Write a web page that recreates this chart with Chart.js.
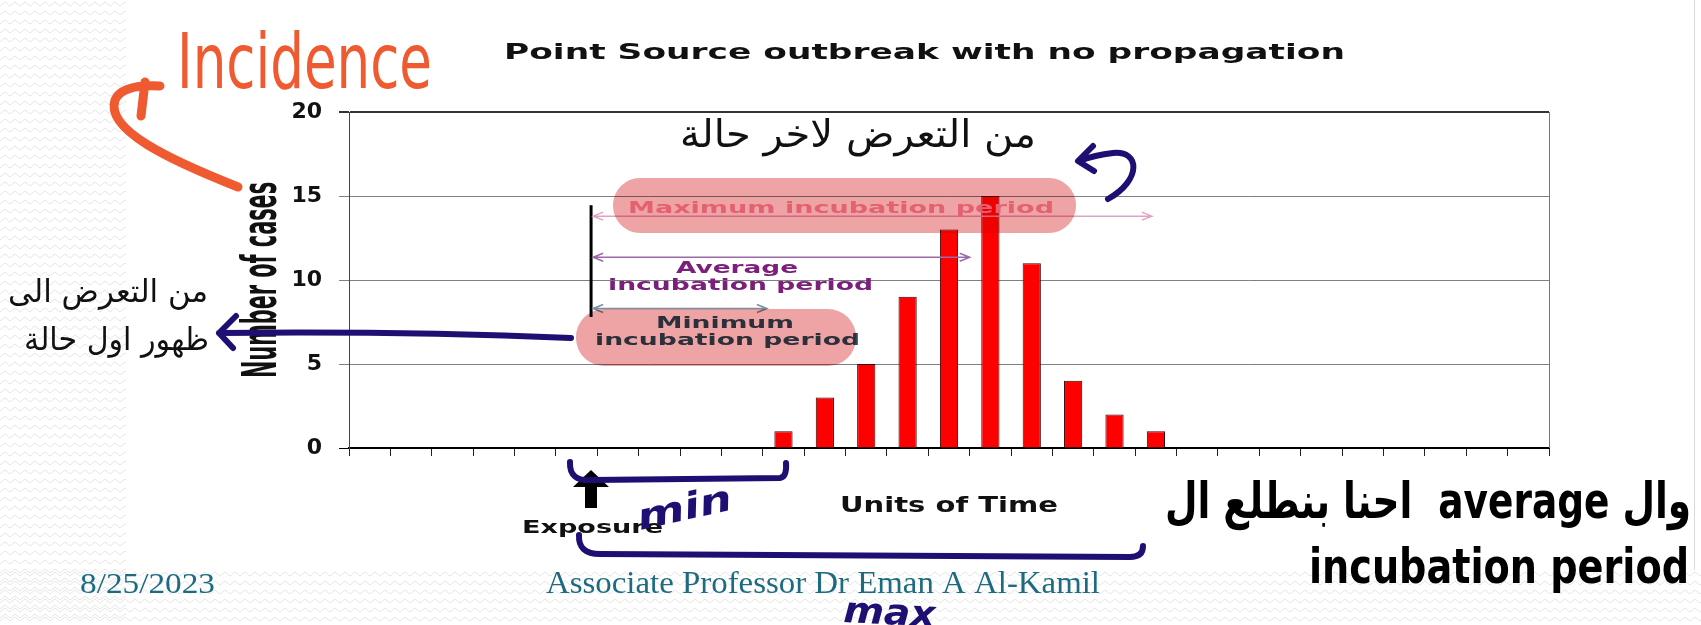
<!DOCTYPE html>
<html>
<head>
<meta charset="utf-8">
<script src="https://cdn.jsdelivr.net/npm/chart.js@4.4.1/dist/chart.umd.min.js"></script>
<style>
  html, body { margin: 0; padding: 0; background: #fff; }
  #wrap { width: 1701px; height: 625px; }
</style>
</head>
<body>
<div id="wrap"><canvas id="chart" width="1701" height="625"></canvas></div>
<script>
// chart data
const timeUnits = ['1', '2', '3', '4', '5', '6', '7', '8', '9', '10',
                   '11', '12', '13', '14', '15', '16', '17', '18', '19', '20',
                   '21', '22', '23', '24', '25', '26', '27', '28', '29'];
const cases     = [0, 0, 0, 0, 0, 0, 0, 0, 0, 0,
                   1, 3, 5, 9, 13, 15, 11, 4, 2, 1,
                   0, 0, 0, 0, 0, 0, 0, 0, 0];
const yTicks    = [0, 5, 10, 15, 20];

const chartTitle = 'Point Source outbreak with no propagation';
const xTitle     = 'Units of Time';
const yTitle     = 'Number of cases';

const NAVY = '#1e0f73';
const TEAL = '#1d6b80';
const SANS = '"DejaVu Sans", "Noto Sans", sans-serif';

// draw text stretched to a given width (the slide image is stretched)
function fitText(ctx, text, left, baseline, width, font, color, opts = {}) {
  ctx.save();
  ctx.font = font;
  ctx.fillStyle = color;
  ctx.textAlign = 'left';
  ctx.textBaseline = 'alphabetic';
  if (opts.rtl) ctx.direction = 'rtl';
  const w = ctx.measureText(text).width;
  ctx.translate(left, baseline);
  if (opts.rotate) ctx.rotate(opts.rotate);
  ctx.scale(width / w, opts.sy || 1);
  ctx.fillText(text, 0, 0);
  ctx.restore();
}

function zigzag(ctx, x0, y0, x1, y1) {
  ctx.save();
  ctx.beginPath();
  ctx.rect(x0, y0, x1 - x0, y1 - y0);
  ctx.clip();
  ctx.strokeStyle = '#e6e6e6';
  ctx.lineWidth = 1;
  for (let y = y0 + 4; y < y1; y += 9) {
    ctx.beginPath();
    let up = false;
    for (let x = x0; x <= x1 + 6; x += 5) {
      ctx.lineTo(x, y + (up ? -2 : 2));
      up = !up;
    }
    ctx.stroke();
  }
  ctx.restore();
}

function dblArrow(ctx, x0, x1, y, color) {
  ctx.save();
  ctx.strokeStyle = color;
  ctx.lineWidth = 1.5;
  ctx.beginPath();
  ctx.moveTo(x0, y); ctx.lineTo(x1, y);
  ctx.moveTo(x0 + 10, y - 4); ctx.lineTo(x0, y); ctx.lineTo(x0 + 10, y + 4);
  ctx.moveTo(x1 - 10, y - 4); ctx.lineTo(x1, y); ctx.lineTo(x1 - 10, y + 4);
  ctx.stroke();
  ctx.restore();
}

function pen(ctx, color, width, draw) {
  ctx.save();
  ctx.strokeStyle = color;
  ctx.lineWidth = width;
  ctx.lineCap = 'round';
  ctx.lineJoin = 'round';
  ctx.beginPath();
  draw(ctx);
  ctx.stroke();
  ctx.restore();
}

const slide = {
  id: 'slide',
  beforeDraw(chart) {
    const ctx = chart.ctx;
    ctx.save();
    ctx.fillStyle = '#fff';
    ctx.fillRect(0, 0, chart.width, chart.height);
    zigzag(ctx, 0, 0, 126, 625);
    zigzag(ctx, 0, 570, 1701, 625);
    ctx.strokeStyle = '#dadada';
    ctx.beginPath(); ctx.moveTo(1694.5, 0); ctx.lineTo(1694.5, 570); ctx.stroke();
    ctx.restore();
  },
  afterDraw(chart) {
    const ctx = chart.ctx;
    const a = chart.chartArea;
    const X = c => chart.scales.x.getPixelForValue(c);
    const Y = v => chart.scales.y.getPixelForValue(v);

    // right frame of the plot
    ctx.save();
    ctx.strokeStyle = '#777';
    ctx.lineWidth = 1;
    ctx.beginPath(); ctx.moveTo(a.right + 0.5, a.top); ctx.lineTo(a.right + 0.5, a.bottom); ctx.stroke();
    ctx.restore();

    // titles
    fitText(ctx, chartTitle, 504, 59, 841, 'bold 22px ' + SANS, '#111');
    fitText(ctx, xTitle, 840, 512, 218, 'bold 22px ' + SANS, '#111');
    fitText(ctx, yTitle, 276, 378, 196, 'bold 48px ' + SANS, '#111', { rotate: -Math.PI / 2 });

    // incubation period markers
    ctx.save();
    ctx.strokeStyle = '#000';
    ctx.lineWidth = 3;
    ctx.beginPath(); ctx.moveTo(X(5.35), Y(14.45)); ctx.lineTo(X(5.35), Y(7.8)); ctx.stroke();
    ctx.restore();
    dblArrow(ctx, X(5.4), X(18.9), Y(13.8), '#e2a2c4');
    dblArrow(ctx, X(5.4), X(14.5), Y(11.35), '#9a6aa8');
    dblArrow(ctx, X(5.4), X(9.6), Y(8.3), '#7890a0');

    fitText(ctx, 'Maximum incubation period', 628, 213, 426, 'bold 16px ' + SANS, '#f596b0');
    fitText(ctx, 'Average', 676, 273, 122, 'bold 15px ' + SANS, '#7b1f7b');
    fitText(ctx, 'incubation period', 608, 290, 265, 'bold 16px ' + SANS, '#7b1f7b');
    fitText(ctx, 'Minimum', 656, 328, 138, 'bold 16px ' + SANS, '#2e4a5c');
    fitText(ctx, 'incubation period', 595, 345, 265, 'bold 16px ' + SANS, '#2e4a5c');

    // exposure arrow
    ctx.save();
    ctx.fillStyle = '#000';
    ctx.beginPath();
    ctx.moveTo(591, 470); ctx.lineTo(609, 487); ctx.lineTo(573, 487); ctx.closePath();
    ctx.fill();
    ctx.fillRect(585, 486, 12, 22);
    ctx.restore();
    fitText(ctx, 'Exposure', 522, 533, 141, 'bold 18px ' + SANS, '#111');

    // pink highlighter
    ctx.save();
    ctx.globalCompositeOperation = 'multiply';
    ctx.fillStyle = 'rgb(238,164,164)';
    ctx.beginPath(); ctx.roundRect(613, 178, 463, 55, 27); ctx.fill();
    ctx.beginPath(); ctx.roundRect(576, 309, 280, 57, 28); ctx.fill();
    ctx.restore();

    // handwritten notes
    fitText(ctx, 'Incidence', 177, 88, 255, '76px "DejaVu Sans Condensed", ' + SANS, '#ef5a30');
    pen(ctx, '#ef5a30', 9, c => {
      c.moveTo(238, 187);
      c.bezierCurveTo(170, 160, 105, 130, 115, 100);
      c.quadraticCurveTo(122, 84, 160, 86);
      c.moveTo(145, 82); c.lineTo(141, 116);
    });

    fitText(ctx, 'من التعرض لاخر حالة', 680, 147, 356, '38px ' + SANS, '#111', { rtl: true });
    pen(ctx, NAVY, 6, c => {
      c.moveTo(1108, 199);
      c.bezierCurveTo(1142, 180, 1140, 150, 1113, 153);
      c.quadraticCurveTo(1095, 155, 1079, 161);
      c.moveTo(1093, 146); c.lineTo(1078, 161); c.lineTo(1094, 171);
    });

    fitText(ctx, 'من التعرض الى', 8, 302, 200, '32px ' + SANS, '#111', { rtl: true });
    fitText(ctx, 'ظهور اول حالة', 24, 350, 185, '32px ' + SANS, '#111', { rtl: true });
    pen(ctx, NAVY, 6, c => {
      c.moveTo(571, 338);
      c.quadraticCurveTo(400, 331, 219, 333);
      c.moveTo(236, 316); c.lineTo(219, 333); c.lineTo(233, 348);
    });

    pen(ctx, NAVY, 6, c => {
      c.moveTo(570, 462);
      c.quadraticCurveTo(569, 482, 592, 480);
      c.lineTo(780, 478);
      c.quadraticCurveTo(787, 477, 786, 463);
    });
    fitText(ctx, 'min', 640, 530, 96, 'bold italic 36px ' + SANS, NAVY, { rotate: -0.22 });

    pen(ctx, NAVY, 6, c => {
      c.moveTo(579, 535);
      c.quadraticCurveTo(578, 554, 600, 554);
      c.lineTo(1130, 557);
      c.quadraticCurveTo(1143, 557, 1143, 546);
    });
    fitText(ctx, 'max', 843, 622, 92, 'bold italic 36px ' + SANS, NAVY, { rotate: 0.05 });

    fitText(ctx, 'وال average  احنا بنطلع ال', 1165, 518, 526,
            'bold 50px "DejaVu Sans Condensed", ' + SANS, '#000', { rtl: true });
    fitText(ctx, 'incubation period', 1309, 583, 380,
            'bold 48px "DejaVu Sans Condensed", ' + SANS, '#000');

    // footer
    fitText(ctx, '8/25/2023', 80, 593, 135, '30px "Liberation Serif", serif', TEAL);
    fitText(ctx, 'Associate Professor Dr Eman A Al-Kamil', 546, 593, 554, '32px "Liberation Serif", serif', TEAL);
  }
};

new Chart(document.getElementById('chart').getContext('2d'), {
  type: 'bar',
  data: {
    labels: timeUnits,
    datasets: [{
      label: 'Cases',
      data: cases,
      backgroundColor: '#ff0000',
      borderColor: '#3a0000',
      borderWidth: 1,
      borderSkipped: 'start',
      barPercentage: 0.44,
      categoryPercentage: 1,
    }],
  },
  options: {
    responsive: false,
    animation: false,
    layout: { padding: { left: 0, top: 112, right: 152, bottom: 0 } },
    plugins: {
      legend: { display: false },
      tooltip: { enabled: false },
      title: { display: false },
    },
    scales: {
      x: {
        offset: true,
        grid: {
          offset: true,
          drawOnChartArea: false,
          drawTicks: true,
          tickLength: 8,
          color: '#222',
          lineWidth: 1,
        },
        border: { color: '#000', width: 2 },
        ticks: { display: false },
        afterFit: s => { s.height = 177; },
      },
      y: {
        min: 0,
        max: 20,
        afterBuildTicks: s => { s.ticks = yTicks.map(v => ({ value: v })); },
        grid: {
          color: c => c.tick.value === 20 ? '#333' : (c.tick.value === 0 ? '#000' : '#808080'),
          lineWidth: c => c.tick.value === 20 ? 2 : 1,
          tickLength: 10,
        },
        border: { color: '#444', width: 1 },
        ticks: {
          color: '#111',
          padding: 17,
          font: { family: SANS, weight: 'bold', size: 22 },
        },
        afterFit: s => { s.width = 349; },
      },
    },
  },
  plugins: [slide],
});
</script>
</body>
</html>
